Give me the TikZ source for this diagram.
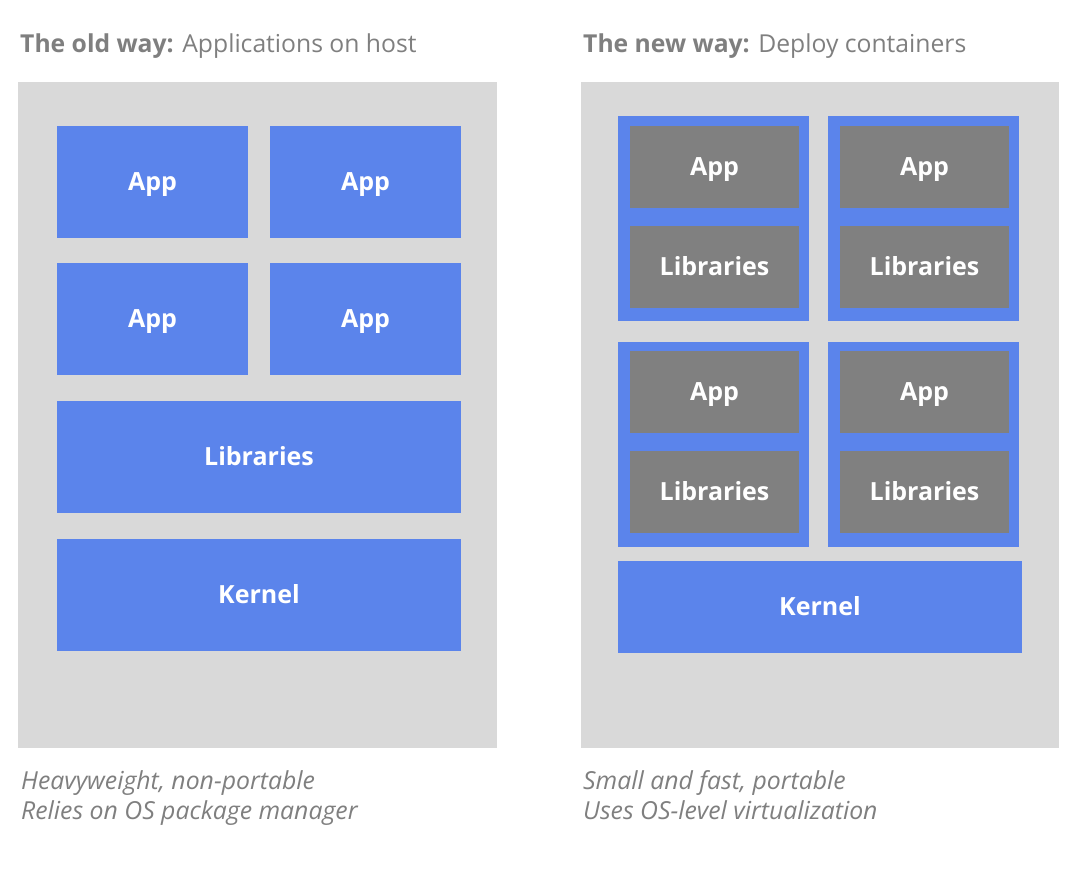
\documentclass[tikz,border=0pt]{standalone}
\usepackage{fontspec}
\setmainfont{Open Sans}
\definecolor{panelgray}{HTML}{D9D9D9}
\definecolor{boxblue}{HTML}{5B84EB}
\definecolor{innergray}{HTML}{808080}
\definecolor{txtgray}{HTML}{7F7F7F}
\tikzset{
  panel/.style={fill=panelgray, draw=none, inner sep=0pt},
  bluebox/.style={fill=boxblue, draw=none, inner sep=0pt, text=white,
    font=\fontsize{25}{30}\selectfont\bfseries, text height=17.85pt, text depth=0pt},
  container/.style={fill=boxblue, draw=none, inner sep=0pt},
  graybox/.style={fill=innergray, draw=none, inner sep=0pt, text=white,
    font=\fontsize{25}{30}\selectfont\bfseries, text height=17.85pt, text depth=0pt,
    minimum width=169pt, minimum height=82pt},
  title/.style={anchor=base west, inner sep=0pt, text=txtgray,
    font=\fontsize{24.7}{30}\selectfont},
  caption/.style={anchor=base west, inner sep=0pt, text=txtgray,
    font=\fontsize{24.8}{30}\selectfont\itshape},
  appbox/.style={bluebox, minimum width=191pt, minimum height=112pt},
  widebox/.style={bluebox, minimum width=404pt, minimum height=112pt},
}
\begin{document}
\begin{tikzpicture}[x=1pt,y=-1pt]
\useasboundingbox (0,0) rectangle (1090,868);
% titles
\node[title] (t1) at (20,52.3) {\textbf{The old way:} Applications on host};
\node[title] (t2) at (583,52.3) {\textbf{The new way:} Deploy containers};
% panels
\node[panel, minimum width=479pt, minimum height=666pt] (p1) at (257.5,415) {};
\node[panel, minimum width=478pt, minimum height=666pt] (p2) at (820,415) {};
% old way
\node[appbox] (a1) at (152.5,182) {App};
\node[appbox] (a2) at (365.5,182) {App};
\node[appbox] (a3) at (152.5,319) {App};
\node[appbox] (a4) at (365.5,319) {App};
\node[widebox] (lib) at (259,457) {Libraries};
\node[widebox] (ker) at (259,595) {Kernel};
% new way containers
\node[container, minimum width=191pt, minimum height=205pt] (c1) at (713.5,218.5) {};
\node[container, minimum width=191pt, minimum height=205pt] (c2) at (923.5,218.5) {};
\node[container, minimum width=191pt, minimum height=205pt] (c3) at (713.5,444.5) {};
\node[container, minimum width=191pt, minimum height=205pt] (c4) at (923.5,444.5) {};
\node[graybox] (c1a) at (714.5,167) {App};
\node[graybox] (c1l) at (714.5,267) {Libraries};
\node[graybox] (c2a) at (924.5,167) {App};
\node[graybox] (c2l) at (924.5,267) {Libraries};
\node[graybox] (c3a) at (714.5,392) {App};
\node[graybox] (c3l) at (714.5,492) {Libraries};
\node[graybox] (c4a) at (924.5,392) {App};
\node[graybox] (c4l) at (924.5,492) {Libraries};
\node[bluebox, minimum width=404pt, minimum height=92pt] (ker2) at (820,607) {Kernel};
% captions
\node[caption] (l1) at (21,789.3) {Heavyweight, non-portable};
\node[caption] (l2) at (21,819.3) {Relies on OS package manager};
\node[caption] (r1) at (583,789.3) {Small and fast, portable};
\node[caption] (r2) at (583,819.3) {Uses OS-level virtualization};
\end{tikzpicture}
\end{document}
